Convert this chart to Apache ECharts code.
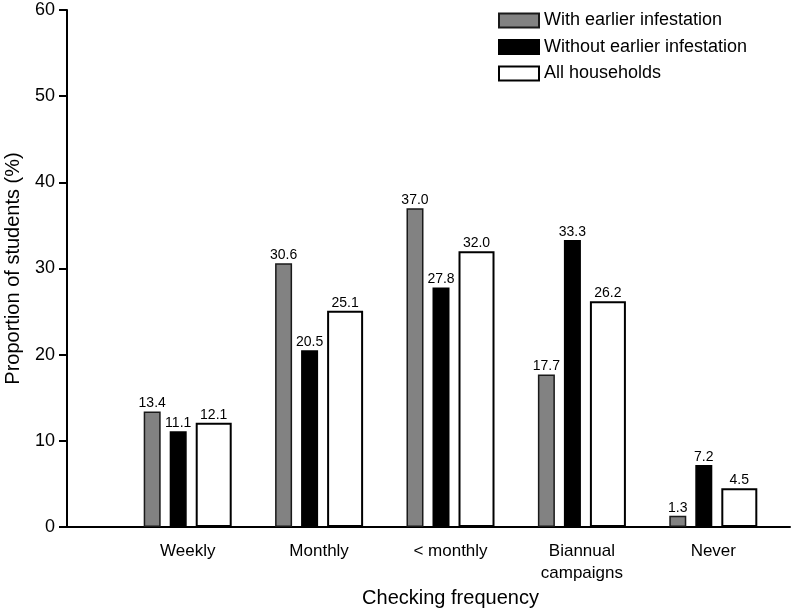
<!DOCTYPE html>
<html><head><meta charset="utf-8">
<script src="https://cdn.jsdelivr.net/npm/echarts@6/dist/echarts.min.js"></script>
<style>html,body{margin:0;padding:0;background:#fff}#c{width:791px;height:612px}</style>
</head><body><div id="c"></div>
<script>
const categories = ['Weekly', 'Monthly', '< monthly', 'Biannual\ncampaigns', 'Never'];
const withEarlier = [13.4, 30.6, 37.0, 17.7, 1.3];
const withoutEarlier = [11.1, 20.5, 27.8, 33.3, 7.2];
const allHouseholds = [12.1, 25.1, 32.0, 26.2, 4.5];
const seriesNames = ['With earlier infestation', 'Without earlier infestation', 'All households'];
const yTicks = [0, 10, 20, 30, 40, 50, 60];

const font = 'Liberation Sans, Arial, sans-serif';
const lbl = {show: true, position: 'top', distance: 1, color: '#000', fontSize: 14, fontFamily: font,
  formatter: p => p.value.toFixed(1)};

const chart = echarts.init(document.getElementById('c'));
chart.setOption({
  animation: false,
  backgroundColor: '#fff',
  textStyle: {fontFamily: font},
  grid: [
    {left: 122, right: 12, top: 10, bottom: 85, containLabel: false, outerBoundsMode: 'none'},
    {left: 67, right: 1, top: 10, bottom: 85, containLabel: false, outerBoundsMode: 'none'}
  ],
  legend: {
    orient: 'vertical', left: 493, top: 6.5, itemWidth: 40, itemHeight: 14, itemGap: 8.5,
    icon: 'rect',
    textStyle: {fontSize: 18, color: '#000', fontFamily: font},
    data: seriesNames
  },
  xAxis: [
    {type: 'category', gridIndex: 0, data: categories,
     axisLine: {show: false}, axisTick: {show: false},
     axisLabel: {fontSize: 17, color: '#000', margin: 13, lineHeight: 22, fontFamily: font},
     name: 'Checking frequency', nameLocation: 'middle', nameGap: 60,
     nameTextStyle: {fontSize: 20, color: '#000', fontFamily: font}},
    {type: 'value', gridIndex: 1, min: 0, max: 1,
     axisLine: {show: true, onZero: false, lineStyle: {color: '#000', width: 2}},
     axisTick: {show: false}, axisLabel: {show: false}, splitLine: {show: false}}
  ],
  yAxis: [
    {type: 'value', gridIndex: 0, min: yTicks[0], max: yTicks[yTicks.length - 1], interval: 10, show: false},
    {type: 'value', gridIndex: 1, min: yTicks[0], max: yTicks[yTicks.length - 1], interval: 10,
     axisLine: {show: true, lineStyle: {color: '#000', width: 2}},
     axisTick: {show: true, length: 8, lineStyle: {color: '#000', width: 2}},
     axisLabel: {fontSize: 18, color: '#000', margin: 12, fontFamily: font},
     splitLine: {show: false},
     name: 'Proportion of students (%)', nameLocation: 'middle', nameGap: 44,
     nameTextStyle: {fontSize: 20, color: '#000', fontFamily: font}}
  ],
  series: [
    {name: seriesNames[0], type: 'bar', xAxisIndex: 0, yAxisIndex: 0, data: withEarlier,
     barWidth: 17, barGap: '53%',
     itemStyle: {color: '#828282', borderColor: '#1a1a1a', borderWidth: 1.5}, label: lbl},
    {name: seriesNames[1], type: 'bar', xAxisIndex: 0, yAxisIndex: 0, data: withoutEarlier,
     barWidth: 17, barGap: '53%',
     itemStyle: {color: '#000', borderColor: '#000', borderWidth: 1.5}, label: lbl},
    {name: seriesNames[2], type: 'bar', xAxisIndex: 0, yAxisIndex: 0, data: allHouseholds,
     barWidth: 36, barGap: '53%',
     itemStyle: {color: '#fff', borderColor: '#000', borderWidth: 2}, label: lbl}
  ]
});
</script></body></html>
